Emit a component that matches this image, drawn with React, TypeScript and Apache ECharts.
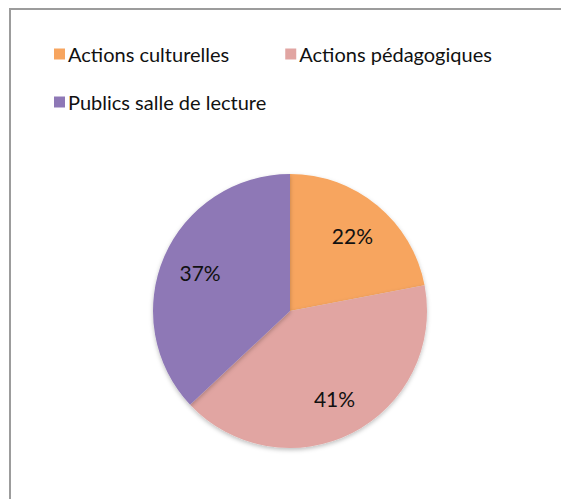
import React, { useEffect, useRef } from "react";
import * as echarts from "echarts";

const categories = ["Actions culturelles", "Actions pédagogiques", "Publics salle de lecture"];
const values = [22, 41, 37];
const colors = ["#F7A55F", "#E1A5A2", "#8E78B6"];

export default function App() {
  const ref = useRef<HTMLDivElement>(null);
  useEffect(() => {
    const chart = echarts.init(ref.current!, null, { renderer: "svg" });
    const data = categories.map((name, i) => ({ name, value: values[i], itemStyle: { color: colors[i] } }));
    const font = "Lato, 'Open Sans', sans-serif";
    chart.setOption({
      animation: false,
      backgroundColor: "#ffffff",
      graphic: [
        {
          type: "rect",
          shape: { x: 10, y: 9, width: 700, height: 700 },
          style: { fill: "none", stroke: "#9c9c9c", lineWidth: 2 },
          z: 0,
        },
      ],
      legend: [
        {
          data: categories.slice(0, 2),
          left: 49,
          top: 39,
          orient: "horizontal",
          icon: "rect",
          itemWidth: 11,
          itemHeight: 11,
          itemGap: 56,
          selectedMode: false,
          textStyle: { fontFamily: font, fontSize: 20, color: "#111111", padding: [0, 0, 0, -2] },
        },
        {
          data: categories.slice(2),
          left: 49,
          top: 87,
          orient: "horizontal",
          icon: "rect",
          itemWidth: 11,
          itemHeight: 11,
          selectedMode: false,
          textStyle: { fontFamily: font, fontSize: 20, color: "#111111", padding: [0, 0, 0, -2] },
        },
      ],
      series: [
        {
          type: "pie",
          center: [290, 311],
          radius: [0, 137],
          startAngle: 90,
          clockwise: true,
          data,
          label: { show: false },
          labelLine: { show: false },
          itemStyle: { shadowBlur: 4, shadowOffsetY: 2, shadowColor: "rgba(0,0,0,0.25)" },
          emphasis: { disabled: true },
        },
        {
          type: "pie",
          center: [290, 311],
          radius: [53, 137],
          startAngle: 90,
          clockwise: true,
          silent: true,
          data: categories.map((name, i) => ({ name, value: values[i] })),
          itemStyle: { color: "rgba(0,0,0,0)" },
          label: {
            show: true,
            position: "inside",
            formatter: "{d}%",
            fontFamily: font,
            fontSize: 21,
            color: "#111111",
          },
          labelLine: { show: false },
          emphasis: { disabled: true },
        },
      ],
    });
    return () => chart.dispose();
  }, []);
  return <div ref={ref} style={{ position: "fixed", left: 0, top: 0, width: 561, height: 499 }} />;
}
